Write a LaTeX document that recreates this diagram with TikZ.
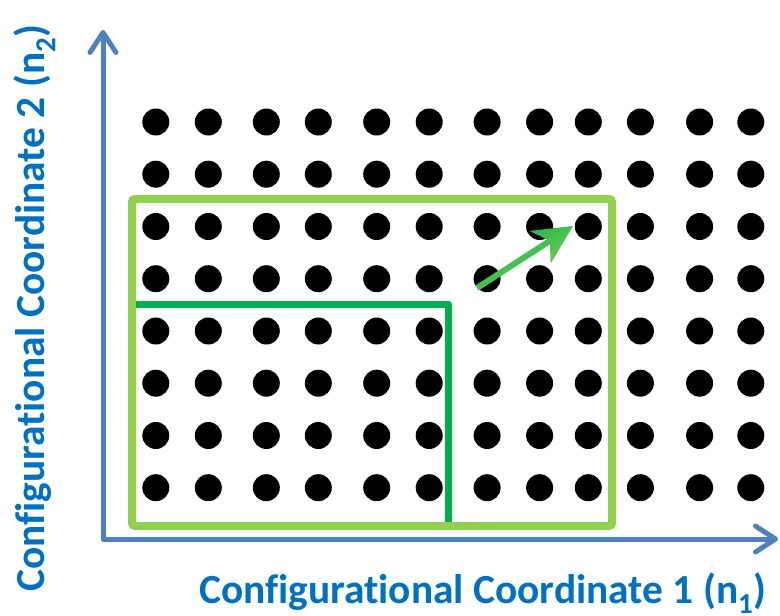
\documentclass[tikz,border=0pt]{standalone}
\usepackage{fontspec}
\setmainfont[Ligatures=CommonOff]{Carlito}
\usetikzlibrary{arrows.meta,calc}
\definecolor{axisblue}{HTML}{4F81BD}
\definecolor{labelblue}{HTML}{0070C0}
\definecolor{lightgreen}{HTML}{92D050}
\definecolor{darkgreen}{HTML}{00B050}
\tikzset{axisbarb/.tip={Straight Barb[length=20pt,width=26pt,line cap=round,line join=round]}}
\begin{document}
\begin{tikzpicture}[x=1pt,y=-1pt,
  dot/.style={circle,fill=black,inner sep=0pt,minimum size=27pt},
  axis/.style={axisblue,line width=5pt,line join=round,line cap=round},
  axislabel/.style={labelblue,font=\fontsize{41.4}{46}\selectfont\bfseries,inner sep=0pt},
  region/.style={lightgreen,line width=8pt,rounded corners=3pt},
  subregion/.style={darkgreen,line width=7pt,line join=round}]
\useasboundingbox (0,0) rectangle (780,616);
\clip (0,0) rectangle (780,616);

% lattice of configurations
\foreach \x [count=\i] in {155.8,208.3,266.3,318.3,376.7,429.2,487.1,539.6,588.3,640.4,699.6,750.8}
  \foreach \y [count=\j] in {122,174.2,226.5,278.7,331,383.2,435.5,487.7}
    \node[dot] (d\i-\j) at (\x,\y) {};

% axes
\coordinate (origin) at (103,539);
\coordinate (ytip) at (103,30);
\coordinate (xtip) at (778,539);
\draw[axis,axisbarb-axisbarb] (ytip) -- (origin) -- (xtip);

% enlarged and original regions
\coordinate (boxnw) at (132,199);
\coordinate (boxse) at (612,526);
\draw[region] (boxnw) rectangle (boxse);
\coordinate (subw) at (136,304);
\coordinate (subcorner) at (448,304);
\coordinate (subs) at (448,522);
\draw[subregion] (subw) -- (subcorner) -- (subs);

% growth arrow
\coordinate (astart) at (477,288);
\coordinate (atip) at (573,226);
\coordinate (anotch) at ($(astart)!85pt!(atip)$);
\coordinate (awing) at ($(astart)!75pt!(atip)$);
\shade[left color=darkgreen,right color=lightgreen,shading angle=32.9]
  ($(astart)!3pt!90:(atip)$) -- ($(anotch)!3pt!90:(atip)$)
  -- ($(awing)!19.5pt!90:(atip)$) -- (atip)
  -- ($(awing)!19.5pt!-90:(atip)$) -- ($(anotch)!3pt!-90:(atip)$)
  -- ($(astart)!3pt!-90:(atip)$) -- cycle;

% axis labels
\node[axislabel,anchor=base west] (xlabel) at (199,603)
  {Configurational Coordinate 1 (n\textsubscript{1})};
\node[axislabel,anchor=base west,rotate=90] (ylabel) at (45,592)
  {Configurational Coordinate 2 (n\textsubscript{2})};
\end{tikzpicture}
\end{document}
